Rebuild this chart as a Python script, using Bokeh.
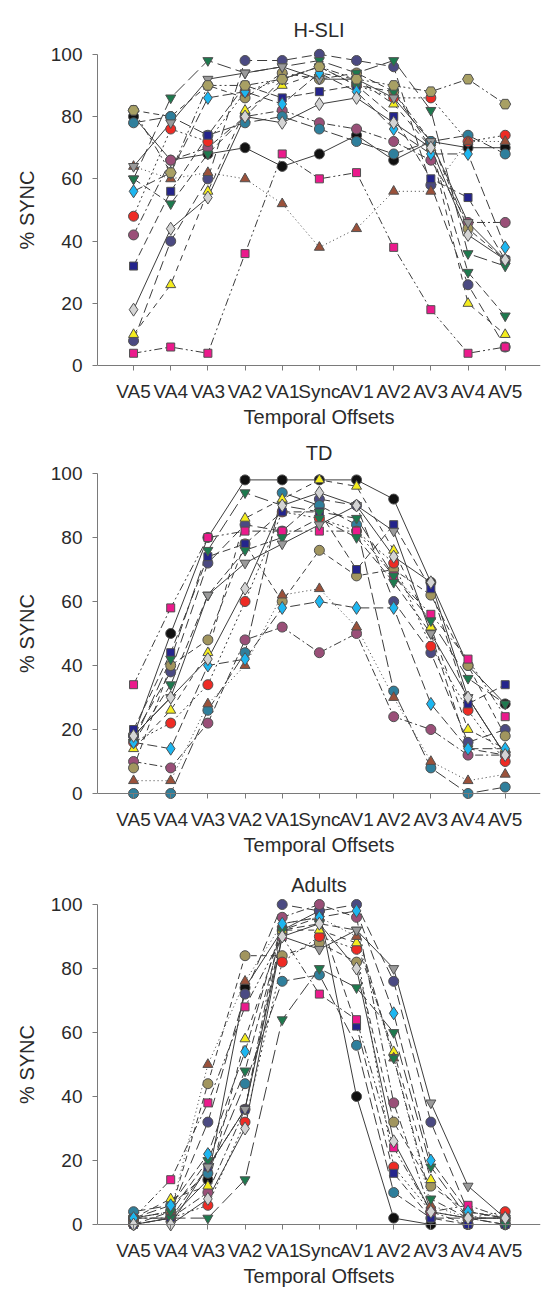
from bokeh.plotting import figure
from bokeh.layouts import column
from bokeh.models import Range1d, FixedTicker, LinearAxis
from bokeh.embed import file_html
from bokeh.resources import INLINE

OFFSETS = ["VA5", "VA4", "VA3", "VA2", "VA1", "Sync", "AV1", "AV2", "AV3", "AV4", "AV5"]
Y_TICKS = [0, 20, 40, 60, 80, 100]
PANEL_TITLES = ["H-SLI", "TD", "Adults"]

# ---- H-SLI ----
hsli_black_circle = [80, 66, 68, 70, 64, 68, 74, 66, 72, 70, 70]
hsli_navy_circle = [8, 40, 60, 98, 98, 100, 98, 96, 58, 26, 6]
hsli_mauve_circle = [42, 66, 70, 80, 82, 78, 76, 72, 66, 46, 46]
hsli_olive_circle = [82, 80, 90, 86, 94, 92, 94, 88, 72, 44, 34]
hsli_teal_circle = [78, 80, 74, 78, 80, 76, 72, 68, 72, 74, 68]
hsli_red_circle = [48, 76, 72, 88, 92, 96, 90, 86, 86, 72, 74]
hsli_navy_square = [32, 56, 74, 90, 86, 88, 90, 80, 60, 54, 34]
hsli_magenta_square = [4, 6, 4, 36, 68, 60, 62, 38, 18, 4, 6]
hsli_yellow_triangle = [10, 26, 56, 82, 90, 94, 92, 84, 70, 20, 10]
hsli_brown_triangle = [64, 60, 62, 60, 52, 38, 44, 56, 56, 72, 72]
hsli_green_inv_a = [60, 86, 98, 94, 96, 98, 94, 98, 82, 36, 32]
hsli_green_inv_b = [60, 52, 68, 80, 92, 96, 90, 88, 70, 30, 16]
hsli_grey_inv = [64, 78, 92, 94, 96, 92, 92, 86, 72, 46, 34]
hsli_cyan_diamond = [56, 62, 86, 88, 84, 94, 88, 76, 68, 68, 38]
hsli_light_diamond = [18, 44, 54, 80, 78, 84, 86, 78, 70, 42, 34]
hsli_olive_hex = [82, 62, 90, 90, 92, 96, 92, 90, 88, 92, 84]

# ---- TD ----
td_black_circle = [18, 50, 80, 98, 98, 98, 98, 92, 66, 40, 28]
td_navy_circle = [18, 38, 72, 84, 82, 92, 90, 60, 44, 16, 20]
td_mauve_circle = [10, 8, 22, 48, 52, 44, 50, 24, 20, 12, 12]
td_olive_circle = [8, 40, 48, 78, 60, 76, 68, 70, 62, 40, 18]
td_teal_circle = [0, 0, 26, 44, 94, 90, 84, 32, 8, 0, 2]
td_red_circle = [16, 22, 34, 60, 88, 86, 82, 72, 46, 26, 10]
td_navy_square = [20, 44, 74, 78, 88, 88, 70, 84, 64, 28, 34]
td_magenta_square = [34, 58, 80, 82, 82, 82, 82, 68, 56, 42, 24]
td_yellow_triangle = [14, 26, 44, 86, 92, 98, 96, 76, 52, 20, 14]
td_brown_triangle = [4, 4, 28, 40, 62, 64, 52, 30, 10, 4, 6]
td_green_inv_a = [16, 42, 76, 94, 90, 88, 86, 68, 54, 36, 28]
td_green_inv_b = [16, 34, 62, 76, 80, 86, 80, 66, 50, 14, 12]
td_grey_inv = [18, 30, 62, 72, 78, 84, 90, 82, 50, 30, 12]
td_cyan_diamond = [16, 14, 40, 42, 58, 60, 58, 58, 28, 14, 14]
td_light_diamond = [18, 30, 42, 64, 90, 94, 90, 74, 66, 30, 12]

# ---- Adults ----
ad_black_circle = [0, 2, 14, 74, 92, 98, 40, 2, 0, 0, 0]
ad_navy_circle = [2, 4, 32, 72, 100, 98, 100, 76, 32, 4, 2]
ad_mauve_circle = [2, 2, 10, 36, 96, 100, 96, 38, 4, 0, 0]
ad_olive_circle = [2, 4, 44, 84, 84, 88, 82, 32, 12, 4, 2]
ad_teal_circle = [4, 6, 16, 44, 76, 78, 56, 10, 2, 2, 0]
ad_red_circle = [0, 2, 6, 32, 82, 90, 86, 18, 4, 2, 4]
ad_navy_square = [0, 2, 18, 36, 92, 96, 62, 16, 2, 0, 0]
ad_magenta_square = [2, 14, 38, 68, 90, 72, 64, 24, 4, 6, 2]
ad_yellow_triangle = [2, 8, 12, 58, 92, 92, 88, 54, 14, 2, 2]
ad_brown_triangle = [2, 4, 50, 76, 94, 96, 90, 52, 6, 2, 2]
ad_green_inv_a = [2, 2, 2, 14, 64, 80, 74, 60, 18, 2, 2]
ad_green_inv_b = [0, 4, 20, 48, 92, 94, 92, 52, 8, 2, 0]
ad_grey_inv = [0, 0, 18, 36, 90, 86, 92, 80, 38, 12, 2]
ad_cyan_diamond = [2, 6, 22, 54, 94, 96, 98, 66, 20, 4, 2]
ad_light_diamond = [0, 0, 8, 30, 90, 94, 80, 26, 4, 2, 2]

# style per subject: marker, fill, size, line dash
STYLES = {
    "black_circle": ("circle", "#111111", 10, "solid"),
    "navy_circle": ("circle", "#4B4A82", 10, "10 5"),
    "mauve_circle": ("circle", "#9A4F78", 10, "8 3 2 3"),
    "olive_circle": ("circle", "#A1955E", 10, "6 4"),
    "teal_circle": ("circle", "#2F7F9C", 10, "12 4"),
    "red_circle": ("circle", "#EE2B24", 10, "2 3"),
    "navy_square": ("square", "#24248C", 8, "8 4"),
    "magenta_square": ("square", "#EB1A8C", 8, "8 3 2 3 2 3"),
    "yellow_triangle": ("triangle", "#F4EC1E", 10, "6 5"),
    "brown_triangle": ("triangle", "#9B513A", 10, "1 3"),
    "green_inv_a": ("inverted_triangle", "#1D7A4E", 10, "14 5"),
    "green_inv_b": ("inverted_triangle", "#1D7A4E", 10, "8 4"),
    "grey_inv": ("inverted_triangle", "#9A9A9A", 10, "solid"),
    "cyan_diamond": ("diamond", "#1DB6F0", 13, "10 4"),
    "light_diamond": ("diamond", "#D4D4D4", 13, "solid"),
    "olive_hex": ("hex", "#A8A064", 11, "8 3 2 3 2 3"),
}

PANELS = [
    [("black_circle", hsli_black_circle), ("navy_circle", hsli_navy_circle),
     ("mauve_circle", hsli_mauve_circle), ("olive_circle", hsli_olive_circle),
     ("teal_circle", hsli_teal_circle), ("red_circle", hsli_red_circle),
     ("navy_square", hsli_navy_square), ("magenta_square", hsli_magenta_square),
     ("yellow_triangle", hsli_yellow_triangle), ("brown_triangle", hsli_brown_triangle),
     ("green_inv_a", hsli_green_inv_a), ("green_inv_b", hsli_green_inv_b),
     ("grey_inv", hsli_grey_inv), ("cyan_diamond", hsli_cyan_diamond),
     ("light_diamond", hsli_light_diamond), ("olive_hex", hsli_olive_hex)],
    [("black_circle", td_black_circle), ("navy_circle", td_navy_circle),
     ("mauve_circle", td_mauve_circle), ("olive_circle", td_olive_circle),
     ("teal_circle", td_teal_circle), ("red_circle", td_red_circle),
     ("navy_square", td_navy_square), ("magenta_square", td_magenta_square),
     ("yellow_triangle", td_yellow_triangle), ("brown_triangle", td_brown_triangle),
     ("green_inv_a", td_green_inv_a), ("green_inv_b", td_green_inv_b),
     ("grey_inv", td_grey_inv), ("cyan_diamond", td_cyan_diamond),
     ("light_diamond", td_light_diamond)],
    [("black_circle", ad_black_circle), ("navy_circle", ad_navy_circle),
     ("mauve_circle", ad_mauve_circle), ("olive_circle", ad_olive_circle),
     ("teal_circle", ad_teal_circle), ("red_circle", ad_red_circle),
     ("navy_square", ad_navy_square), ("magenta_square", ad_magenta_square),
     ("yellow_triangle", ad_yellow_triangle), ("brown_triangle", ad_brown_triangle),
     ("green_inv_a", ad_green_inv_a), ("green_inv_b", ad_green_inv_b),
     ("grey_inv", ad_grey_inv), ("cyan_diamond", ad_cyan_diamond),
     ("light_diamond", ad_light_diamond)],
]

# figure geometry: (height, border_top, border_bottom, title_standoff)
GEOM = [(435, 46, 62, 12), (428, 30, 62, 4), (427, 33, 58, 2)]

FONT = "Liberation Sans"
TEXT = "#2a2a2a"
AXIS = "#7a7a7a"

x = list(range(len(OFFSETS)))
figs = []
for title, series, (h, bt, bb, so) in zip(PANEL_TITLES, PANELS, GEOM):
    p = figure(width=547, height=h, x_range=Range1d(-0.97, 10.95),
               y_range=Range1d(-2.5, 102.5), output_backend="svg",
               toolbar_location=None, title=title,
               min_border_left=97, min_border_right=7,
               min_border_top=bt, min_border_bottom=bb)
    p.outline_line_color = None
    p.grid.visible = False
    p.title.align = "center"
    p.title.text_font = FONT
    p.title.text_font_size = "20px"
    p.title.text_font_style = "normal"
    p.title.text_color = TEXT
    p.title.standoff = so

    # labelled x axis at the frame bottom (labels only)
    xa = p.xaxis[0]
    xa.ticker = FixedTicker(ticks=x)
    xa.major_label_overrides = {i: lab for i, lab in enumerate(OFFSETS)}
    xa.axis_label = "Temporal Offsets"
    xa.axis_line_color = None
    xa.major_tick_line_color = None
    xa.minor_tick_line_color = None
    xa.major_tick_in = 0
    xa.major_tick_out = 0
    xa.major_label_standoff = 7
    xa.axis_label_standoff = 1

    # x axis line and ticks drawn at y = 0
    xline = LinearAxis(ticker=FixedTicker(ticks=x), fixed_location=0,
                       axis_line_color=AXIS, major_tick_line_color=AXIS,
                       minor_tick_line_color=None, major_tick_in=0,
                       major_tick_out=5, major_label_text_font_size="0px",
                       major_label_standoff=0)
    xline.major_label_overrides = {i: "" for i in x}
    p.add_layout(xline, "below")

    ya = p.yaxis[0]
    ya.ticker = FixedTicker(ticks=Y_TICKS)
    ya.bounds = (0, 100)
    ya.axis_label = "% SYNC"
    ya.axis_line_color = AXIS
    ya.major_tick_line_color = AXIS
    ya.minor_tick_line_color = None
    ya.major_tick_in = 0
    ya.major_tick_out = 5
    ya.major_label_standoff = 10
    ya.axis_label_standoff = 10

    for ax in (xa, ya):
        ax.major_label_text_font = FONT
        ax.major_label_text_font_size = "19px"
        ax.major_label_text_color = TEXT
        ax.axis_label_text_font = FONT
        ax.axis_label_text_font_size = "20px"
        ax.axis_label_text_font_style = "normal"
        ax.axis_label_text_color = TEXT

    for key, vals in series:
        marker, fill, size, dash = STYLES[key]
        p.line(x, vals, line_color="#3c3c3c", line_width=1, line_dash=dash)
    for key, vals in series:
        marker, fill, size, dash = STYLES[key]
        p.scatter(x, vals, marker=marker, size=size, fill_color=fill,
                  line_color="#505050", line_width=1)
    figs.append(p)

layout = column(*figs, spacing=0)
open("out.html", "w").write(file_html(layout, INLINE))
